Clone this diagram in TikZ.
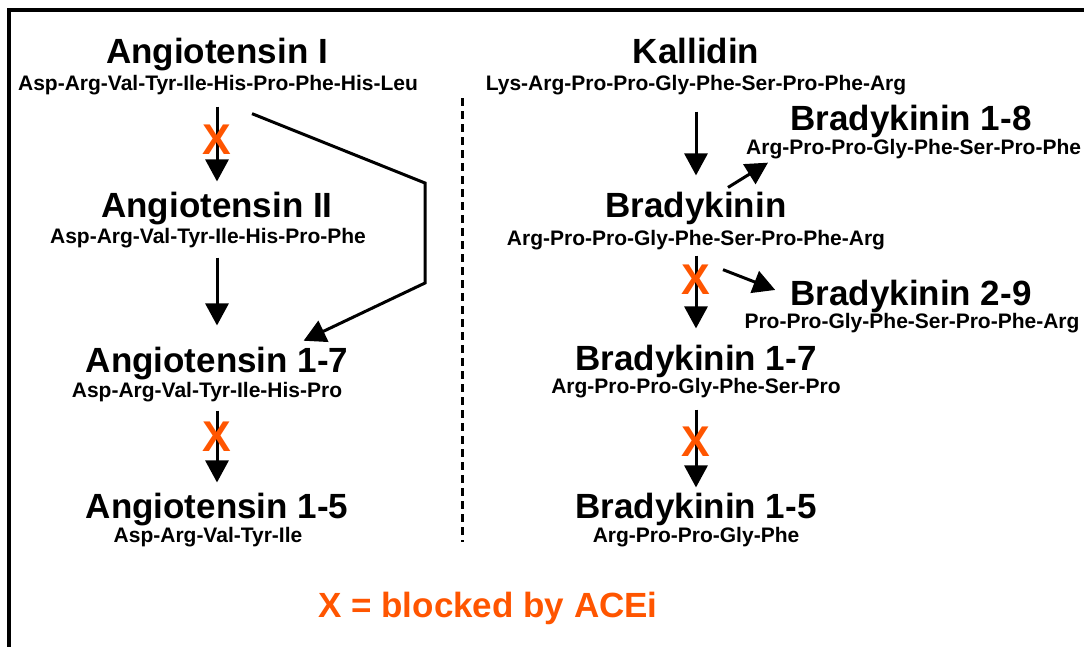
\documentclass[tikz,border=0pt]{standalone}
\usepackage{fontspec}
\setmainfont{Liberation Sans}
\usetikzlibrary{arrows.meta}
\definecolor{blockorange}{RGB}{255,85,0}

\begin{document}
\begin{tikzpicture}[x=1pt, y=-1pt,
  title/.style={anchor=base, inner sep=0pt, font=\fontsize{35}{35}\selectfont\bfseries},
  seq/.style={anchor=base, inner sep=0pt, font=\fontsize{21}{21}\selectfont\bfseries},
  flow/.style={-{Triangle[width=23pt,length=22pt]}, line width=3pt},
  blockx/.style={inner sep=0pt, text=blockorange, font=\fontsize{43}{43}\selectfont\bfseries}]

\newcommand\colL{217}
\newcommand\colR{696}

\useasboundingbox (0,0) rectangle (1084,646);
\clip (0,0) rectangle (1084,646);

%% frame and divider
\draw[line width=3.5pt] (9,700) -- (9,10) -- (1150,10);
\draw[line width=3pt, dash pattern=on 8pt off 5pt] (462,98) -- (462,542);

%% angiotensin side
\node[title] (angI) at (\colL,63) {Angiotensin I};
\node[seq] (angIseq) at (218,90) {Asp-Arg-Val-Tyr-Ile-His-Pro-Phe-His-Leu};
\node[title] (angII) at (\colL,217) {Angiotensin II};
\node[seq] (angIIseq) at (208,243) {Asp-Arg-Val-Tyr-Ile-His-Pro-Phe};
\node[title] (ang17) at (\colL,372) {Angiotensin 1-7};
\node[seq] (ang17seq) at (207,397) {Asp-Arg-Val-Tyr-Ile-His-Pro};
\node[title] (ang15) at (\colL,518) {Angiotensin 1-5};
\node[seq] (ang15seq) at (208,542) {Asp-Arg-Val-Tyr-Ile};

\draw[flow, shorten <=12pt, shorten >=10pt] (angI |- angIseq.south) -- (angII.north);
\draw[flow, shorten <=10pt, shorten >=21pt] (angII |- angIIseq.south) -- (ang17.north);
\draw[flow, shorten <=9pt, shorten >=10pt] (ang17 |- ang17seq.south) -- (ang15.north);
\draw[flow, shorten >=4pt] ([xshift=34pt,yshift=-19pt]angIseq.south)
  -- (425,183) -- (425,283) -- ([xshift=83pt,yshift=4pt]ang17.north);

\node[blockx] (xangII) at (\colL,140) {X};
\node[blockx] (xang15) at (\colL,437) {X};

%% bradykinin side
\node[title] (kal) at (\colR,63) {Kallidin};
\node[seq] (kalseq) at (\colR,90) {Lys-Arg-Pro-Pro-Gly-Phe-Ser-Pro-Phe-Arg};
\node[title] (bk) at (\colR,217) {Bradykinin};
\node[seq] (bkseq) at (\colR,245) {Arg-Pro-Pro-Gly-Phe-Ser-Pro-Phe-Arg};
\node[title] (bk17) at (\colR,370) {Bradykinin 1-7};
\node[seq] (bk17seq) at (\colR,393) {Arg-Pro-Pro-Gly-Phe-Ser-Pro};
\node[title] (bk15) at (\colR,518) {Bradykinin 1-5};
\node[seq] (bk15seq) at (\colR,542) {Arg-Pro-Pro-Gly-Phe};

\node[title] (bk18) at (911,130) {Bradykinin 1-8};
\node[seq, anchor=base west] (bk18seq) at (746,154) {Arg-Pro-Pro-Gly-Phe-Ser-Pro-Phe};
\node[title] (bk29) at (911,305) {Bradykinin 2-9};
\node[seq] (bk29seq) at (912,328) {Pro-Pro-Gly-Phe-Ser-Pro-Phe-Arg};

\draw[flow, shorten <=17pt, shorten >=16pt] (kal |- kalseq.south) -- (bk.north);
\draw[flow, shorten <=6pt, shorten >=16pt] (bk |- bkseq.south) -- (bk17.north);
\draw[flow, shorten <=12pt, shorten >=5pt] (bk17 |- bk17seq.south) -- (bk15.north);
\draw[flow] ([xshift=32pt,yshift=4pt]bk.north) -- ([xshift=22pt,yshift=-4pt]bk18seq.south west);
\draw[flow] ([xshift=27pt,yshift=-20pt]bkseq.south) -- ([xshift=-15pt,yshift=6pt]bk29.west);

\node[blockx] (xbk17) at (\colR,280) {X};
\node[blockx] (xbk15) at (\colR,442) {X};

%% legend
\node[title, text=blockorange] (legend) at (488,617) {X = blocked by ACEi};

\end{tikzpicture}
\end{document}
